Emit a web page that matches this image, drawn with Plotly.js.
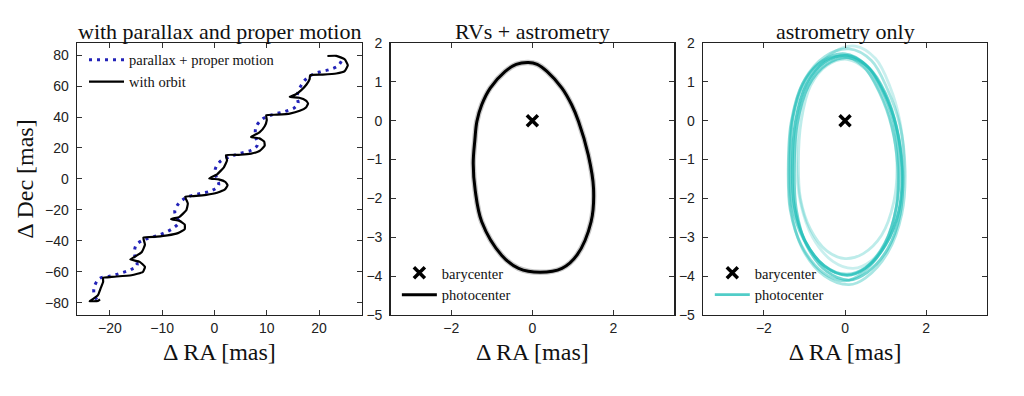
<!DOCTYPE html>
<html>
<head>
<meta charset="utf-8">
<script src="https://cdn.plot.ly/plotly-3.0.1.min.js"></script>
<style>html,body{margin:0;padding:0;background:#fff;}#chart{width:1024px;height:396px;}</style>
</head>
<body>
<div id="chart"></div>
<script>
// ---- Panel 1: with parallax and proper motion (mas) ----
const orbitRA = [21.6, 23.3, 24.9, 25.5, 24.9, 23.3, 20.7, 18.3, 18.2, 17.6, 16.5, 15.5, 14.4, 16.2, 17.5, 17.9, 17.5, 16.3, 14.4, 12.0, 9.9,
  10.0, 9.6, 8.6, 7.0, 8.6, 9.5, 9.6, 8.6, 7.0, 5.0, 2.2, 2.4, 1.8, 0.5, -1.0, 0.8, 2.1, 2.5, 2.0, 0.5, -1.6, -3.5, -5.6,
  -5.1, -5.4, -6.7, -8.3, -6.7, -5.7, -5.7, -7.0, -9.0, -11.0, -13.6, -13.3, -13.9, -15.3, -16.1, -14.3, -13.3, -13.7, -15.9, -19.7, -21.3,
  -21.3, -21.8, -22.3, -23.2, -23.9, -22.3, -21.9];
const orbitDec = [79.4, 79.5, 77.3, 73.4, 69.6, 68.1, 67.4, 67.0, 64.5, 61.0, 57.0, 54.5, 53.0, 52.4, 50.6, 48.7, 46.2, 44.0, 42.2, 41.5, 41.1,
  38.0, 34.0, 30.0, 27.1, 26.2, 24.2, 21.5, 18.0, 16.3, 15.6, 15.3, 12.0, 7.5, 3.0, 0.3, -0.3, -2.0, -4.1, -6.8, -8.9, -10.3, -11.0, -11.5,
  -15.9, -20.2, -24.5, -26.0, -27.1, -29.4, -32.5, -35.0, -36.5, -37.3, -37.9, -42.5, -47.2, -50.4, -52.0, -53.6, -56.8, -60.1, -62.2, -63.3, -63.9,
  -66.5, -70.8, -75.1, -77.5, -79.0, -78.8, -77.8];

const ppmRA = [-22.5, -23.0, -23.0, -22.0, -20.1, -18.2, -16.0, -14.8, -15.0, -15.3, -15.0, -13.7, -11.8, -9.9, -8.0, -6.8, -7.3, -7.6, -7.0, -5.4,
  -2.9, -0.5, 0.8, 0.4, 0.1, 1.0, 2.9, 4.8, 7.0, 8.2, 8.0, 7.8, 8.0, 9.3, 11.2, 13.5, 15.3, 16.0, 15.8, 16.0, 16.6, 17.3, 18.5, 20.1, 22.0, 23.6, 24.3];
const ppmDec = [-77.9, -75.1, -69.8, -64.3, -62.9, -61.1, -58.5, -56.0, -52.5, -48.2, -42.8, -39.6, -37.5, -35.3, -32.0, -28.0, -24.5, -21.0, -16.5, -12.0,
  -9.6, -7.5, -4.0, 0.5, 5.6, 11.0, 14.2, 16.4, 18.5, 21.8, 25.5, 29.3, 34.0, 39.0, 41.6, 43.6, 46.0, 49.0, 52.5, 56.5, 60.5, 63.8, 67.0, 69.1, 70.6, 73.0, 76.2];

// ---- Panel 2: RVs + astrometry photocenter orbit ----
const rvRA  = [-0.1, 0.12, 0.36, 0.73, 0.97, 1.14, 1.38, 1.51, 1.45, 1.1, 0.73, 0.19, -0.34, -0.76, -1.25, -1.41, -1.46, -1.42, -1.37, -1.25, -1.04, -0.67, -0.4, -0.1];
const rvDec = [1.5, 1.45, 1.27, 0.84, 0.41, -0.02, -0.88, -1.74, -2.6, -3.46, -3.8, -3.9, -3.8, -3.46, -2.6, -1.8, -1.1, -0.5, -0.02, 0.41, 0.84, 1.27, 1.45, 1.5];

// ---- Panel 3: astrometry only, several posterior orbits ----
const astRA = [
  [-1.3, -1.22, -0.95, -0.5, 0.05, 0.55, 0.95, 1.25, 1.4, 1.33, 1.0, 0.5, 0.05, -0.5, -0.98, -1.25, -1.3],
  [-1.38, -1.3, -1.0, -0.5, 0.1, 0.65, 1.05, 1.35, 1.48, 1.4, 1.05, 0.5, 0.1, -0.5, -1.05, -1.33, -1.38],
  [-1.15, -1.08, -0.85, -0.45, 0.05, 0.5, 0.88, 1.15, 1.28, 1.2, 0.9, 0.45, 0.0, -0.45, -0.85, -1.1, -1.15],
  [-1.25, -1.18, -0.9, -0.45, 0.1, 0.6, 1.0, 1.28, 1.42, 1.36, 1.05, 0.55, 0.1, -0.45, -0.95, -1.2, -1.25],
  [-1.2, -1.12, -0.8, -0.3, 0.25, 0.75, 1.1, 1.35, 1.45, 1.38, 1.1, 0.65, 0.2, -0.3, -0.8, -1.1, -1.2],
  [-1.35, -1.28, -1.0, -0.55, 0.0, 0.5, 0.9, 1.2, 1.33, 1.27, 0.98, 0.5, 0.02, -0.52, -1.02, -1.3, -1.35],
  [-1.4, -1.33, -1.05, -0.6, -0.05, 0.45, 0.85, 1.15, 1.3, 1.25, 0.95, 0.45, 0.0, -0.55, -1.08, -1.35, -1.4]
];
const astDec = [
  [-1.2, 0.0, 0.95, 1.5, 1.68, 1.4, 0.75, -0.1, -1.2, -2.3, -3.2, -3.8, -3.98, -3.75, -3.1, -2.2, -1.2],
  [-1.2, 0.05, 1.05, 1.65, 1.85, 1.55, 0.8, -0.1, -1.25, -2.4, -3.4, -4.05, -4.22, -4.0, -3.3, -2.3, -1.2],
  [-1.1, 0.0, 0.9, 1.42, 1.58, 1.33, 0.7, -0.1, -1.1, -2.1, -2.95, -3.42, -3.55, -3.35, -2.8, -2.0, -1.1],
  [-1.3, -0.1, 0.9, 1.45, 1.62, 1.35, 0.7, -0.2, -1.3, -2.4, -3.3, -3.9, -4.1, -3.88, -3.2, -2.3, -1.3],
  [-1.0, 0.2, 1.15, 1.75, 1.92, 1.6, 0.9, 0.0, -1.0, -2.1, -3.0, -3.6, -3.8, -3.62, -3.0, -2.1, -1.0],
  [-1.1, 0.1, 1.0, 1.55, 1.72, 1.45, 0.8, -0.05, -1.1, -2.2, -3.15, -3.78, -3.95, -3.72, -3.05, -2.2, -1.1],
  [-1.25, -0.05, 0.95, 1.5, 1.66, 1.4, 0.72, -0.15, -1.2, -2.3, -3.25, -3.9, -4.12, -3.9, -3.2, -2.3, -1.25]
];
const astOpacity = [0.8, 0.4, 0.3, 0.65, 0.25, 0.6, 0.5];

const baryRA = [0];
const baryDec = [0];

const panelTitles = ['with parallax and proper motion', 'RVs + astrometry', 'astrometry only'];
const xTitle = 'Δ RA [mas]';
const yTitle = 'Δ Dec [mas]';

const SERIF = 'Liberation Serif, Times New Roman, serif';
const SANS = 'Liberation Sans, Arial, sans-serif';
const CYAN = 'rgb(38,192,186)';

const traces = [];
traces.push({x: ppmRA, y: ppmDec, xaxis: 'x', yaxis: 'y', mode: 'lines', name: 'parallax + proper motion',
  line: {color: '#2323b8', width: 3, dash: '3px,5px', shape: 'spline', smoothing: 1}, legend: 'legend'});
traces.push({x: orbitRA, y: orbitDec, xaxis: 'x', yaxis: 'y', mode: 'lines', name: 'with orbit',
  line: {color: '#000', width: 2.2, shape: 'spline', smoothing: 0.4}, legend: 'legend'});

traces.push({x: baryRA, y: baryDec, xaxis: 'x2', yaxis: 'y2', mode: 'markers', name: 'barycenter', legend: 'legend2',
  marker: {symbol: 'x-thin', size: 11, color: '#000', line: {color: '#000', width: 3.5}}});
traces.push({x: rvRA, y: rvDec, xaxis: 'x2', yaxis: 'y2', mode: 'lines', showlegend: false, hoverinfo: 'skip',
  line: {color: 'rgba(0,0,0,0.22)', width: 5.5, shape: 'spline', smoothing: 1}, legend: 'legend2'});
traces.push({x: rvRA, y: rvDec, xaxis: 'x2', yaxis: 'y2', mode: 'lines', name: 'photocenter', legend: 'legend2',
  line: {color: '#000', width: 3, shape: 'spline', smoothing: 1}});

traces.push({x: baryRA, y: baryDec, xaxis: 'x3', yaxis: 'y3', mode: 'markers', name: 'barycenter', legend: 'legend3',
  marker: {symbol: 'x-thin', size: 11, color: '#000', line: {color: '#000', width: 3.5}}});
astRA.forEach((ra, i) => {
  traces.push({x: ra, y: astDec[i], xaxis: 'x3', yaxis: 'y3', mode: 'lines', name: 'photocenter', legend: 'legend3',
    showlegend: i === 0, opacity: astOpacity[i],
    line: {color: CYAN, width: 2.8, shape: 'spline', smoothing: 1}});
});

const axisBase = {
  showgrid: false, zeroline: false, showline: true, linecolor: '#222', linewidth: 1.4,
  mirror: 'allticks', ticks: 'inside', ticklen: 5, tickwidth: 1, tickcolor: '#333',
  tickfont: {family: SANS, size: 14, color: '#222'}, automargin: false
};
const xTitleObj = {text: xTitle, font: {family: SERIF, size: 24, color: '#111'}, standoff: 8};

const legendFont = {family: SERIF, size: 14.5, color: '#111'};
const layout = {
  width: 1024, height: 396,
  margin: {l: 77, r: 36.7, t: 43.3, b: 81},
  paper_bgcolor: '#fff', plot_bgcolor: '#fff',
  font: {family: SERIF, color: '#111'},
  xaxis: Object.assign({}, axisBase, {domain: [0, 0.3131], range: [-26.3, 28.2], dtick: 10, tick0: 0, anchor: 'y', title: xTitleObj}),
  yaxis: Object.assign({}, axisBase, {domain: [0, 1], range: [-87.9, 87.8], dtick: 20, tick0: 0, anchor: 'x', ticklabelstandoff: 4,
    title: {text: yTitle, font: {family: SERIF, size: 24, color: '#111'}, standoff: 4}}),
  xaxis2: Object.assign({}, axisBase, {domain: [0.3446, 0.6562], range: [-3.5, 3.5], dtick: 2, tick0: 0, anchor: 'y2', title: xTitleObj}),
  yaxis2: Object.assign({}, axisBase, {domain: [0, 1], range: [-5, 2], dtick: 1, tick0: 0, anchor: 'x2', ticklabelstandoff: 4}),
  xaxis3: Object.assign({}, axisBase, {domain: [0.688, 1], range: [-3.5, 3.5], dtick: 2, tick0: 0, anchor: 'y3', title: xTitleObj}),
  yaxis3: Object.assign({}, axisBase, {domain: [0, 1], range: [-5, 2], dtick: 1, tick0: 0, anchor: 'x3', ticklabelstandoff: 4}),
  legend: {x: 0.0077, y: 0.997, xanchor: 'left', yanchor: 'top', bgcolor: 'rgba(0,0,0,0)', borderwidth: 0,
    font: legendFont, tracegroupgap: 0, itemwidth: 35},
  legend2: {x: 0.3515, y: 0.015, xanchor: 'left', yanchor: 'bottom', bgcolor: 'rgba(0,0,0,0)', borderwidth: 0,
    font: legendFont, itemwidth: 35},
  legend3: {x: 0.6954, y: 0.015, xanchor: 'left', yanchor: 'bottom', bgcolor: 'rgba(0,0,0,0)', borderwidth: 0,
    font: legendFont, itemwidth: 35},
  annotations: panelTitles.map((t, i) => ({
    text: t, xref: (i === 0 ? 'x' : 'x' + (i + 1)) + ' domain', yref: 'paper', x: 0.5, y: 1,
    xanchor: 'center', yanchor: 'bottom', showarrow: false, yshift: -3,
    font: {family: SERIF, size: 22, color: '#111'}
  })),
  showlegend: true
};

Plotly.newPlot('chart', traces, layout, {displayModeBar: false, staticPlot: true});
</script>
</body>
</html>
